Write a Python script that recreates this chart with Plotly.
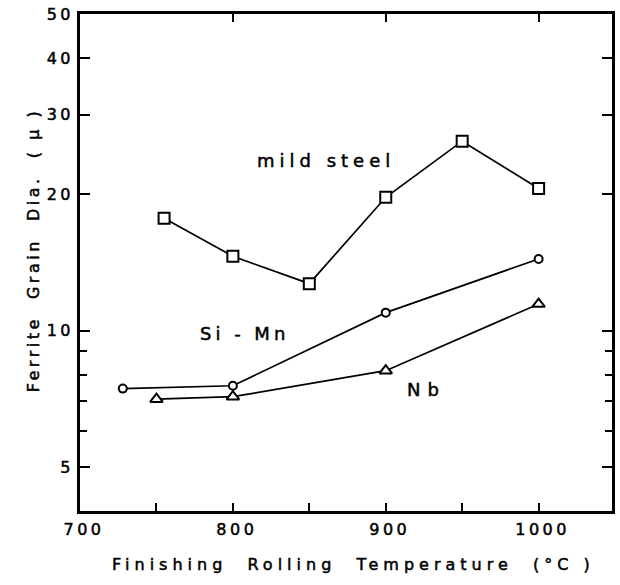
import math
import plotly.graph_objects as go

# ---- data ----
mild_x = [755, 800, 850, 900, 950, 1000]
mild_y = [17.7, 14.6, 12.7, 19.7, 26.2, 20.6]
simn_x = [728, 800, 900, 1000]
simn_y = [7.45, 7.56, 10.96, 14.4]
nb_x = [750, 800, 900, 1000]
nb_y = [7.06, 7.15, 8.16, 11.45]

x_tickvals = [700, 750, 800, 850, 900, 950, 1000]
x_ticktext = ["700", "", "800", "", "900", "", "1000"]
x_top_ticks = [800, 900, 1000]
y_tickvals = [5, 10, 20, 30, 40, 50]
y_ticktext = ["5", "10", "20", "30", "40", "50"]
y_minor = [6, 7, 8, 9]

FONT = "DejaVu Sans"
LW = 1.7

fig = go.Figure()

def add(xs, ys, symbol, size):
    fig.add_trace(go.Scatter(
        x=xs, y=ys, mode="lines+markers",
        line=dict(color="black", width=LW),
        marker=dict(symbol=symbol, size=size, color="white",
                    line=dict(color="black", width=2)),
        showlegend=False, hoverinfo="skip"))

add(mild_x, mild_y, "square", 11)
add(simn_x, simn_y, "circle", 8)
add(nb_x, nb_y, "triangle-up", 11)

# empty trace for the top axis (ticks only)
fig.add_trace(go.Scatter(x=[], y=[], xaxis="x2", showlegend=False))

xr = [700, 1048]
fig.update_layout(
    width=620, height=585,
    margin=dict(l=80, r=5, t=14, b=74),
    paper_bgcolor="white", plot_bgcolor="white",
    font=dict(family=FONT, color="black", size=16),
    xaxis=dict(range=xr, showgrid=False, zeroline=False,
               showline=True, linecolor="black", linewidth=2.5, mirror=True,
               tickmode="array", tickvals=x_tickvals, ticktext=x_ticktext,
               ticks="inside", ticklen=8, tickwidth=1.7, tickcolor="black",
               ticklabelshift=4, ticklabelstandoff=2,
               tickfont=dict(size=16, family=FONT)),
    xaxis2=dict(range=xr, overlaying="x", side="top", showgrid=False,
                zeroline=False, showline=False, showticklabels=False,
                tickmode="array", tickvals=x_top_ticks,
                ticks="inside", ticklen=8, tickwidth=1.7, tickcolor="black"),
    yaxis=dict(type="log", range=[math.log10(4), math.log10(50)],
               showgrid=False, zeroline=False,
               showline=True, linecolor="black", linewidth=2.5, mirror="ticks",
               tickmode="array", tickvals=y_tickvals, ticktext=y_ticktext,
               ticks="inside", ticklen=10, tickwidth=1.7, tickcolor="black",
               tickfont=dict(size=16, family=FONT),
               minor=dict(tickvals=y_minor, ticks="inside", ticklen=7,
                          tickwidth=1.7, tickcolor="black", showgrid=False)),
    annotations=[
        dict(text="mild steel", x=0.462, y=0.73, xref="paper", yref="paper",
             showarrow=False, font=dict(size=18, family=FONT)),
        dict(text="Si - Mn", x=0.249, y=0.358, xref="paper", yref="paper",
             showarrow=False, font=dict(size=18, family=FONT)),
        dict(text="Nb", x=0.652, y=0.219, xref="paper", yref="paper",
             showarrow=False, font=dict(size=18, family=FONT)),
        dict(text="Finishing  Rolling  Temperature  (°C )", x=0.515, y=-0.108,
             xref="paper", yref="paper", showarrow=False, yanchor="middle",
             font=dict(size=16, family=FONT)),
        dict(text="Ferrite  Grain  Dia.  ( μ )", x=-0.11, y=0.525,
             xref="paper", yref="paper", showarrow=False, textangle=-90,
             font=dict(size=16, family=FONT)),
    ],
)

post = """
var gd = document.getElementById('{plot_id}');
function sp(){
  gd.querySelectorAll('.xtick text, .ytick text').forEach(function(t){
    t.style.letterSpacing='3.5px'; t.style.stroke='black'; t.style.strokeWidth='0.5px';});
  var sps = ['5px','4px','7px','5px','3.5px'];
  gd.querySelectorAll('.annotation-text').forEach(function(t,i){
    t.style.letterSpacing=sps[i]||'3px'; t.style.stroke='black'; t.style.strokeWidth='0.5px';});
}
sp();
gd.on('plotly_afterplot', sp);
"""

fig.write_html("out.html", post_script=post)
